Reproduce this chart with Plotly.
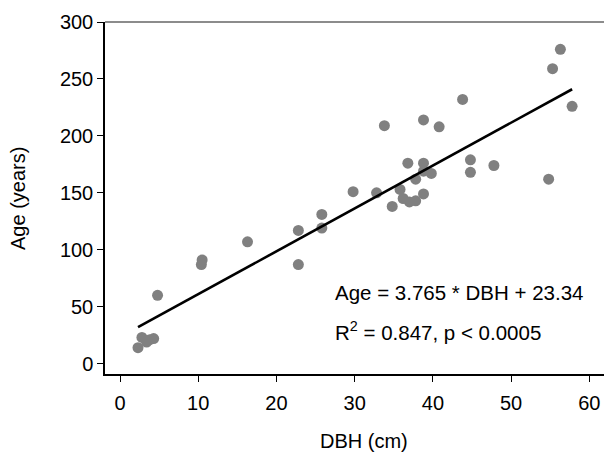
import plotly.graph_objects as go

# Data
dbh = [2.3, 2.8, 3.4, 3.8, 4.3, 4.8, 10.4, 10.5, 16.3, 22.8, 22.8, 25.8, 25.8,
       29.8, 32.8, 33.8, 34.8, 35.8, 36.2, 36.8, 37.0, 37.8, 37.8, 38.8, 38.8,
       38.8, 38.8, 39.8, 40.8, 43.8, 44.8, 44.8, 47.8, 54.8, 55.3, 56.3, 57.8]
age = [14, 23, 19, 21, 22, 60, 87, 91, 107, 117, 87, 131, 119,
       151, 150, 209, 138, 153, 145, 176, 142, 162, 143, 176, 169,
       149, 214, 167, 208, 232, 179, 168, 174, 162, 259, 276, 226]

x_ticks = [0, 10, 20, 30, 40, 50, 60]
y_ticks = [0, 50, 100, 150, 200, 250, 300]

slope = 3.765
intercept = 23.34
fit_x = [min(dbh), max(dbh)]
fit_y = [slope * v + intercept for v in fit_x]

eq_text = "Age = 3.765 * DBH + 23.34"
r2_text = "R<sup>2</sup> = 0.847, p < 0.0005"
x_title = "DBH (cm)"
y_title = "Age (years)"

FONT = "Liberation Sans, Arial, Helvetica, sans-serif"

fig = go.Figure()
fig.add_trace(go.Scatter(x=dbh, y=age, mode="markers",
                         marker=dict(size=11, color="#808080", line=dict(width=0)),
                         showlegend=False, cliponaxis=False))
fig.add_trace(go.Scatter(x=fit_x, y=fit_y, mode="lines",
                         line=dict(color="black", width=2.6), showlegend=False))

fig.add_annotation(x=0.449, y=0.232, xref="paper", yref="paper", text=eq_text,
                   showarrow=False, xanchor="left", yanchor="middle",
                   font=dict(size=20.5, color="black", family=FONT))
fig.add_annotation(x=0.449, y=0.121, xref="paper", yref="paper", text=r2_text,
                   showarrow=False, xanchor="left", yanchor="middle",
                   font=dict(size=20.5, color="black", family=FONT))

# axis titles
fig.add_annotation(x=0.511, y=-0.19, xref="paper", yref="paper", text=x_title,
                   showarrow=False, xanchor="center", yanchor="middle",
                   font=dict(size=20, color="black", family=FONT))
fig.add_annotation(x=-0.1716, y=0.5, xref="paper", yref="paper", text=y_title,
                   showarrow=False, xanchor="center", yanchor="middle", textangle=-90,
                   font=dict(size=20, color="black", family=FONT))

# top border
fig.add_shape(type="line", xref="paper", yref="paper", x0=0, x1=1, y0=1, y1=1,
              line=dict(color="#666666", width=1.5))

# the page body adds an 8px margin, so the figure is 8px smaller
fig.update_layout(
    width=604, height=452,
    margin=dict(l=97, r=0, t=13.7, b=86.3),
    paper_bgcolor="white", plot_bgcolor="white",
    font=dict(family=FONT, size=20, color="black"),
    xaxis=dict(range=[-1.92, 62.9], tickvals=x_ticks, automargin=False,
               showgrid=False, zeroline=False, showline=True, linecolor="black",
               linewidth=1.5, ticks="outside", ticklen=6, tickcolor="black",
               tickwidth=1.2, tickfont=dict(size=20), ticklabelstandoff=4),
    yaxis=dict(range=[-9.1, 300], tickvals=y_ticks, automargin=False,
               showgrid=False, zeroline=False, showline=True, linecolor="black",
               linewidth=1.5, ticks="outside", ticklen=6, tickcolor="black",
               tickwidth=1.2, tickfont=dict(size=20)),
)

fig.write_html("out.html")
